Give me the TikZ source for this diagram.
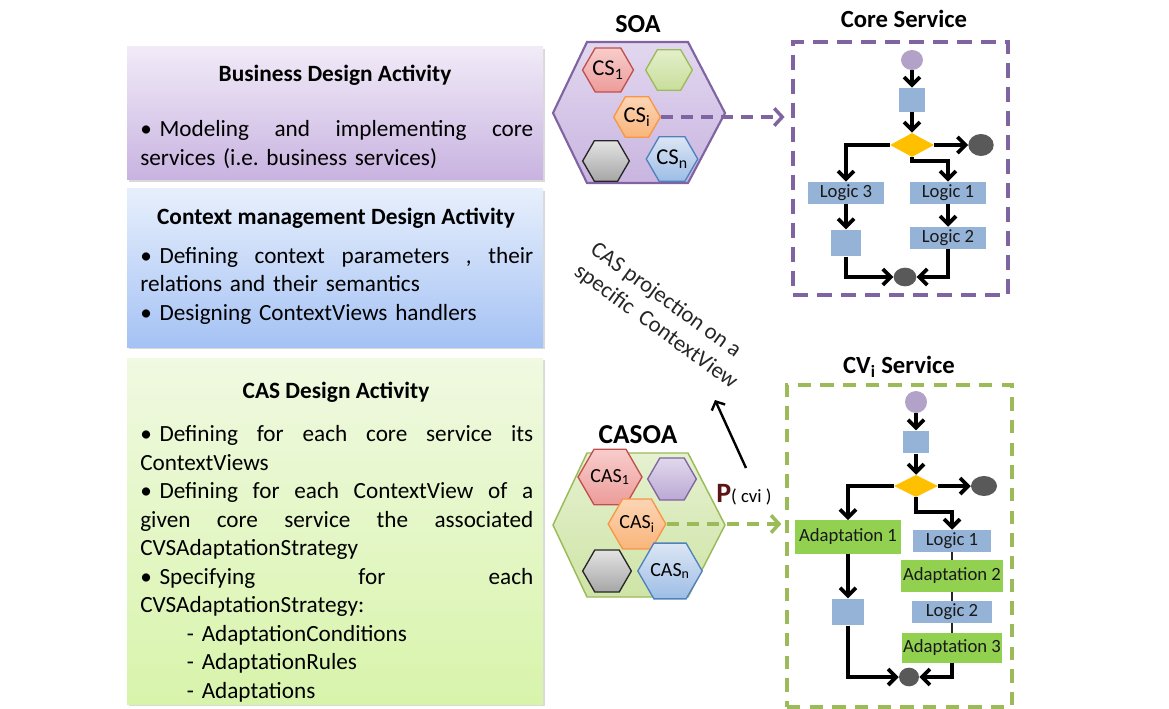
\documentclass[tikz,border=0pt]{standalone}
\usepackage{fontspec}
\setmainfont{Carlito}
\usetikzlibrary{arrows.meta,shapes.geometric,shadows}

\definecolor{purp}{HTML}{8064A2}
\definecolor{grn}{HTML}{9BBB59}
\definecolor{flowblue}{HTML}{95B3D7}
\definecolor{gold}{HTML}{FFC000}
\definecolor{dgray}{HTML}{595959}
\definecolor{lpurp}{HTML}{B3A2C7}
\definecolor{adgreen}{HTML}{92D050}
\definecolor{bizTop}{HTML}{F1EBF8}
\definecolor{bizBot}{HTML}{C8B3E0}
\definecolor{ctxTop}{HTML}{E7EFFC}
\definecolor{ctxBot}{HTML}{A5C2F4}
\definecolor{casTop}{HTML}{F0F9E1}
\definecolor{casBot}{HTML}{D8F4AB}
\definecolor{soaTop}{HTML}{E2D7EF}
\definecolor{soaBot}{HTML}{C9B5E0}
\definecolor{casoaTop}{HTML}{E5F1D0}
\definecolor{casoaBot}{HTML}{CFE4A6}
\definecolor{redS}{HTML}{C0504D}
\definecolor{redT}{HTML}{F8CDCC}
\definecolor{redB}{HTML}{EC9C9A}
\definecolor{grnT}{HTML}{E3EFCB}
\definecolor{grnB}{HTML}{C9DE9B}
\definecolor{orS}{HTML}{F79646}
\definecolor{orT}{HTML}{FCD5B5}
\definecolor{orB}{HTML}{F9B57A}
\definecolor{gyS}{HTML}{262626}
\definecolor{gyT}{HTML}{E3E3E3}
\definecolor{gyB}{HTML}{A6A6A6}
\definecolor{blS}{HTML}{4F81BD}
\definecolor{blT}{HTML}{DCE6F4}
\definecolor{blB}{HTML}{9DBDE6}
\definecolor{puT}{HTML}{E0D8EC}
\definecolor{puB}{HTML}{BBA9D4}
\definecolor{pdark}{HTML}{5C1515}

\tikzset{
  panel/.style={drop shadow={opacity=0.3,shadow xshift=1.2pt,shadow yshift=-1.5pt}},
  ptitle/.style={font=\fontsize{17.5}{20.7}\selectfont\bfseries, anchor=base, inner sep=0pt},
  pbody/.style={font=\fontsize{17.4}{21.4}\selectfont, anchor=base west, text width=294.75pt, align=left, inner sep=0pt},
  hexa/.style={regular polygon, regular polygon sides=6, inner sep=0pt, line width=1pt},
  cshex/.style={hexa, minimum size=35pt, font=\fontsize{17}{17}\selectfont},
  cashex/.style={hexa, minimum size=36.5pt, font=\fontsize{15}{15}\selectfont},
  redhex/.style={draw=redS, top color=redT, bottom color=redB},
  grnhex/.style={draw=grn, top color=grnT, bottom color=grnB},
  orhex/.style={draw=orS, top color=orT, bottom color=orB},
  gyhex/.style={draw=gyS, top color=gyT, bottom color=gyB},
  blhex/.style={draw=blS, top color=blT, bottom color=blB},
  puhex/.style={draw=purp, top color=puT, bottom color=puB},
  frametitle/.style={font=\fontsize{18.5}{18.5}\selectfont\bfseries, anchor=base, inner sep=0pt},
  flow/.style={line width=2.8pt, -{Straight Barb[length=6pt,width=12pt]}},
  link/.style={line width=1pt, draw=black!85},
  startc/.style={ellipse, fill=lpurp, inner sep=0pt},
  endc/.style={ellipse, fill=dgray, inner sep=0pt},
  sqbox/.style={rectangle, fill=flowblue, inner sep=0pt},
  logicbox/.style={rectangle, fill=flowblue, inner sep=0pt, minimum width=57pt, minimum height=16.5pt, font=\fontsize{14}{14}\selectfont, text=black!90},
  adaptbox/.style={rectangle, fill=adgreen, inner sep=0pt, font=\fontsize{14}{14}\selectfont, text=black!90},
  decision/.style={diamond, fill=gold, inner sep=0pt, minimum width=33pt, minimum height=18pt},
}

\begin{document}
\begin{tikzpicture}[x=0.75pt,y=-0.75pt]
\useasboundingbox (0,0) rectangle (1169,709);

% ---------- left panels ----------
\path[panel, top color=bizTop, bottom color=bizBot] (127,47) rectangle (543,180);
\path[panel, top color=ctxTop, bottom color=ctxBot] (127,189) rectangle (543,347);
\path[panel, top color=casTop, bottom color=casBot] (127,358) rectangle (543,704);

\node[ptitle] (biz-title) at (335,82) {Business Design Activity};
\node[pbody] (biz-body) at (140,137)
  {\textbullet\ Modeling\hfill and\hfill implementing\hfill core\\
   services (i.e.\ business services)};

\node[ptitle] (ctx-title) at (336,224) {Context management Design Activity};
\node[pbody] (ctx-body) at (140,263)
  {\textbullet\ Defining\hfill context\hfill parameters\hfill ,\hfill their\\
   relations and their semantics\\
   \textbullet\ Designing ContextViews handlers};

\node[ptitle] (cas-title) at (336,398) {CAS Design Activity};
\node[pbody] (cas-body) at (140,441.7)
  {\textbullet\ Defining\hfill for\hfill each\hfill core\hfill service\hfill its\\
   ContextViews\\
   \textbullet\ Defining\hfill for\hfill each\hfill ContextView\hfill of\hfill a\\
   given\hfill core\hfill service\hfill the\hfill associated\\
   CVSAdaptationStrategy\\
   \textbullet\ Specifying\hfill for\hfill each\\
   CVSAdaptationStrategy:\\
   \hspace*{35pt}- AdaptationConditions\\
   \hspace*{35pt}- AdaptationRules\\
   \hspace*{35pt}- Adaptations};

% ---------- SOA ----------
\node[frametitle, font=\fontsize{19.5}{19.5}\selectfont\bfseries] (soa-label) at (638,33) {SOA};
\draw[purp, line width=1.6pt, top color=soaTop, bottom color=soaBot]
  (587,42) -- (688,42) -- (725,113) -- (688,183) -- (587,183) -- (553,113) -- cycle;
\node[cshex, redhex] (cs1) at (608,70) {CS\textsubscript{1}};
\node[cshex, grnhex] (csg) at (669,70) {};
\node[cshex, orhex] (csi) at (637,117) {CS\textsubscript{i}};
\node[cshex, gyhex] (csgy) at (606,161) {};
\node[cshex, blhex] (csn) at (672,159) {CS\textsubscript{n}};

% ---------- CASOA ----------
\node[frametitle, font=\fontsize{20.5}{20.5}\selectfont\bfseries] (casoa-label) at (638,443) {CASOA};
\draw[grn, line width=1.1pt, top color=casoaTop, bottom color=casoaBot]
  (587,453) -- (688,453) -- (725,525) -- (688,597) -- (587,597) -- (553,525) -- cycle;
\node[cashex, redhex] (cas1) at (610,477) {CAS\textsubscript{1}};
\node[cashex, puhex] (casp) at (672,479) {};
\node[cashex, orhex] (casi) at (637,524) {CAS\textsubscript{i}};
\node[cashex, gyhex] (casgy) at (607,571) {};
\node[cashex, blhex] (casn) at (670,571) {CAS\textsubscript{n}};

% ---------- Core Service ----------
\node[frametitle] (core-label) at (904,28) {Core Service};
\node[draw=purp, line width=2.6pt, dash pattern=on 11pt off 7pt, minimum width=161.25pt, minimum height=189.75pt, inner sep=0pt] (coreframe) at (900.5,168.5) {};

\node[startc, minimum width=16.5pt, minimum height=15pt] (cs-start) at (912,60) {};
\node[sqbox, minimum width=19pt, minimum height=18pt] (cs-sq) at (912,100) {};
\node[decision] (cs-dia) at (912,145) {};
\node[endc, minimum width=19pt, minimum height=16.5pt] (cs-end) at (981,145) {};
\node[logicbox] (cs-l3) at (846,193) {Logic 3};
\node[logicbox] (cs-l1) at (948,193) {Logic 1};
\node[sqbox, minimum width=22.5pt, minimum height=20pt] (cs-sq2) at (846,243) {};
\node[logicbox] (cs-l2) at (948,238) {Logic 2};
\node[endc, minimum width=17pt, minimum height=14pt] (cs-join) at (905,277) {};

\draw[flow] (cs-start) -- (cs-sq);
\draw[flow] (cs-sq) -- (cs-dia);
\draw[flow] (cs-dia) -- (cs-end);
\draw[flow] (cs-dia.west) -| (cs-l3.north);
\draw[flow] (cs-dia.south) -- ++(0,4) -| (cs-l1.north);
\draw[flow] (cs-l3) -- (cs-sq2);
\draw[flow] (cs-l1) -- (cs-l2);
\draw[flow] (cs-sq2.south) |- (cs-join.west);
\draw[flow] (cs-l2.south) |- (cs-join.east);

% ---------- CVi Service ----------
\node[frametitle] (cv-label) at (899,373) {CV\textsubscript{i} Service};
\node[draw=grn, line width=2.4pt, dash pattern=on 10pt off 7pt, minimum width=168.75pt, minimum height=241.5pt, inner sep=0pt] (cvframe) at (899.5,546) {};

\node[startc, minimum width=16.5pt, minimum height=16.5pt] (cv-start) at (916,402) {};
\node[sqbox, minimum width=19.5pt, minimum height=17pt] (cv-sq) at (916,442) {};
\node[decision, minimum height=16.5pt] (cv-dia) at (916,486) {};
\node[endc, minimum width=19.5pt, minimum height=15pt] (cv-end) at (984,486) {};
\node[adaptbox, minimum width=80pt, minimum height=25pt] (cv-a1) at (848,537) {Adaptation 1};
\node[logicbox, minimum width=58pt] (cv-l1) at (952,541) {Logic 1};
\node[adaptbox, minimum width=76pt, minimum height=24pt] (cv-a2) at (952,576) {Adaptation 2};
\node[logicbox, minimum width=60pt, minimum height=16pt] (cv-l2) at (952,612) {Logic 2};
\node[adaptbox, minimum width=75pt, minimum height=22.5pt] (cv-a3) at (952,648) {Adaptation 3};
\node[sqbox, minimum width=24pt, minimum height=20pt] (cv-sq2) at (848,612) {};
\node[endc, minimum width=15pt, minimum height=14pt] (cv-join) at (909,677) {};

\draw[flow] (cv-start) -- (cv-sq);
\draw[flow] (cv-sq) -- (cv-dia);
\draw[flow] (cv-dia) -- (cv-end);
\draw[flow] (cv-dia.west) -| (cv-a1.north);
\draw[flow] (cv-dia.south) -- ++(0,15) -| (cv-l1.north);
\draw[link] (cv-l1) -- (cv-a2);
\draw[link] (cv-a2) -- (cv-l2);
\draw[link] (cv-l2) -- (cv-a3);
\draw[flow] (cv-a1) -- (cv-sq2);
\draw[flow] (cv-sq2.south) |- (cv-join.west);
\draw[flow] (cv-a3.south) |- (cv-join.east);

% ---------- dashed projections ----------
\draw[purp, line width=2.6pt, dash pattern=on 9pt off 6pt, -{Straight Barb[length=6pt,width=13pt]}, shorten >=5pt]
  (csi.east) -- (csi.east -| coreframe.west);
\draw[grn, line width=2.6pt, dash pattern=on 9pt off 6pt, -{Straight Barb[length=6pt,width=13pt]}, shorten >=3pt]
  (casi.east) -- (casi.east -| cvframe.west);

% ---------- projection label ----------
\node[rotate=-36, align=left, inner sep=0pt, font=\fontsize{17}{20.7}\selectfont, text=black!85] (proj) at (664,316)
  {CAS projection on a\\ specific\ \ ContextView};
\node[anchor=base west, inner sep=0pt] (pcvi) at (716,502)
  {{\color{pdark}\fontsize{21}{21}\selectfont\bfseries P}{\fontsize{14}{14}\selectfont( cvi )}};
\coordinate (parrow-start) at (746,468);
\coordinate (parrow-end) at (715,400);
\draw[line width=1.8pt, -{Straight Barb[length=5pt,width=11pt]}] (parrow-start) -- (parrow-end);

\end{tikzpicture}
\end{document}
